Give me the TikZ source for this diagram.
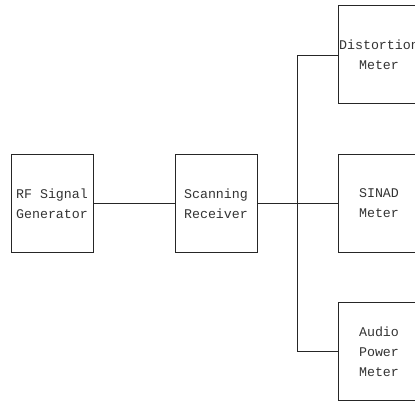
\documentclass[tikz,border=0pt]{standalone}
\usepackage{fontspec}
\setmonofont{Liberation Mono}
\usetikzlibrary{calc}

\tikzset{
  unit/.style={draw=black!85, line width=1pt, minimum width=82pt, minimum height=98pt,
    inner sep=0pt, align=center, text=black!80,
    font=\ttfamily\fontsize{13.3}{20}\selectfont},
  wire/.style={draw=black!85, line width=1pt}
}

\begin{document}
\begin{tikzpicture}[x=1pt,y=1pt]
\useasboundingbox (0,0) rectangle (415,403);
\clip (0,0) rectangle (415,403);

\node[unit] (gen) at (52,199.5) {RF Signal\\Generator};
\node[unit] (rx) at (216,199.5) {Scanning\\Receiver};
\node[unit] (dist) at (379,348) {Distortion\\Meter};
\node[unit] (sinad) at (379,199.5) {SINAD\\Meter};
\node[unit] (apm) at (379,51.5) {Audio\\Power\\Meter};

\coordinate (top) at (297,347);
\coordinate (bot) at (297,51);

\draw[wire] (gen) -- (rx);
\draw[wire] (rx) -- (sinad);
\draw[wire] (dist.west |- top) -- (top) -- (bot) -- (apm.west |- bot);

\end{tikzpicture}
\end{document}
